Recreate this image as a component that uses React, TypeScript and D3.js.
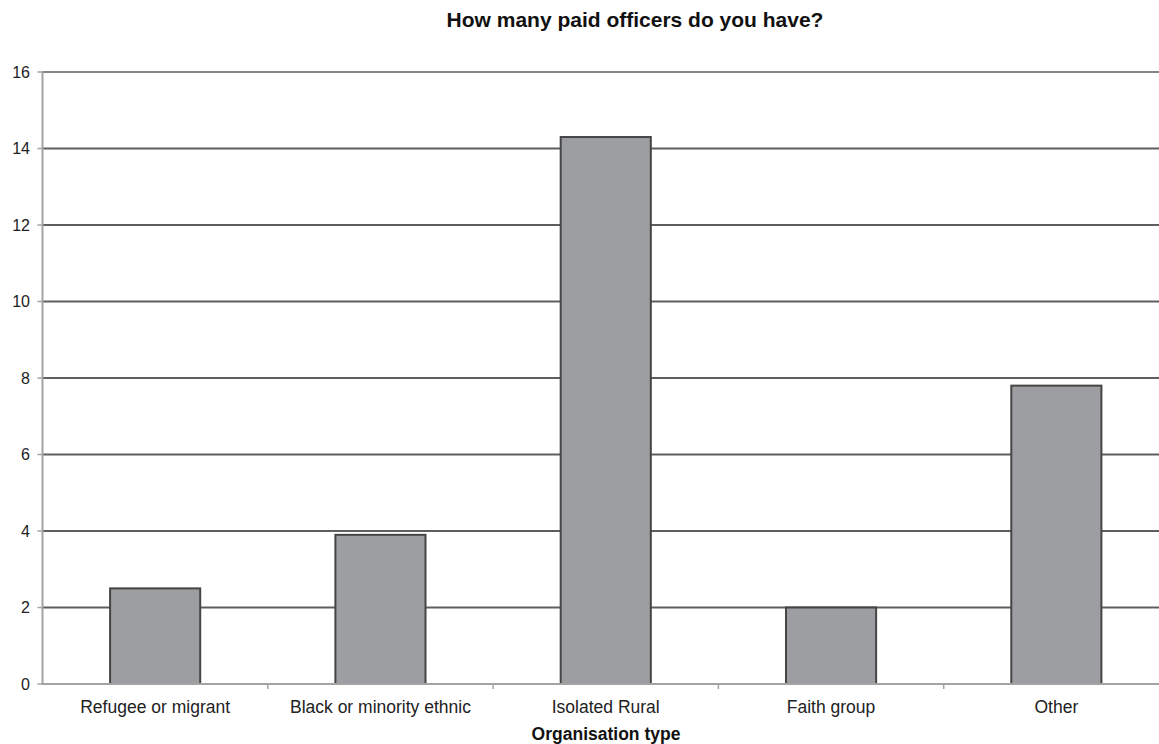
import React from "react";
import * as d3 from "d3";

const categories: string[] = [
  "Refugee or migrant",
  "Black or minority ethnic",
  "Isolated Rural",
  "Faith group",
  "Other",
];
const officers: number[] = [2.5, 3.9, 14.3, 2.0, 7.8];
const yTicks: number[] = [0, 2, 4, 6, 8, 10, 12, 14, 16];

const chartTitle = "How many paid officers do you have?";
const xTitle = "Organisation type";

const W = 1159;
const H = 744;
const left = 42.5;
const right = 1169;
const top = 72;
const bottom = 684;

export default function App() {
  const x = d3
    .scaleBand<string>()
    .domain(categories)
    .range([left, right])
    .paddingInner(0.6)
    .paddingOuter(0.3);
  const y = d3.scaleLinear().domain([0, 16]).range([bottom, top]);
  const step = x.step();
  const font = "'Liberation Sans', Arial, sans-serif";

  return (
    <svg
      width={W}
      height={H}
      style={{ position: "absolute", left: 0, top: 0, background: "#fff" }}
    >
      {/* horizontal gridlines */}
      {yTicks
        .filter((t) => t > 0)
        .map((t) => (
          <line
            key={"g" + t}
            x1={left}
            x2={W}
            y1={y(t)}
            y2={y(t)}
            stroke={t === 16 ? "#858585" : "#5e5e5e"}
            strokeWidth={2}
          />
        ))}
      {/* y axis */}
      <line x1={left} x2={left} y1={top - 1} y2={bottom + 1} stroke="#a3a3a3" strokeWidth={2} />
      {yTicks.map((t) => (
        <g key={"t" + t}>
          <line x1={left - 5} x2={left} y1={y(t)} y2={y(t)} stroke="#a3a3a3" strokeWidth={1.5} />
          <text
            x={30}
            y={y(t)}
            dy="0.36em"
            textAnchor="end"
            fontFamily={font}
            fontSize={16}
            fill="#222"
          >
            {t}
          </text>
        </g>
      ))}
      {/* bars */}
      {categories.map((c, i) => (
        <rect
          key={c}
          x={x(c)!}
          y={y(officers[i])}
          width={x.bandwidth()}
          height={bottom - y(officers[i])}
          fill="#9d9ea2"
          stroke="#454545"
          strokeWidth={2}
        />
      ))}
      {/* x axis */}
      <line x1={left} x2={W} y1={bottom} y2={bottom} stroke="#a3a3a3" strokeWidth={2} />
      {categories.map((c, i) => (
        <line
          key={"xt" + i}
          x1={left + step * (i + 1)}
          x2={left + step * (i + 1)}
          y1={bottom}
          y2={bottom + 5}
          stroke="#a3a3a3"
          strokeWidth={1.5}
        />
      ))}
      {categories.map((c) => (
        <text
          key={"l" + c}
          x={x(c)! + x.bandwidth() / 2}
          y={713}
          textAnchor="middle"
          fontFamily={font}
          fontSize={17.5}
          fill="#222"
        >
          {c}
        </text>
      ))}
      <text
        x={606}
        y={740}
        textAnchor="middle"
        fontFamily={font}
        fontSize={17.5}
        fontWeight="bold"
        fill="#111"
      >
        {xTitle}
      </text>
      <text
        x={635}
        y={27}
        textAnchor="middle"
        fontFamily={font}
        fontSize={21}
        fontWeight="bold"
        fill="#111"
      >
        {chartTitle}
      </text>
    </svg>
  );
}
